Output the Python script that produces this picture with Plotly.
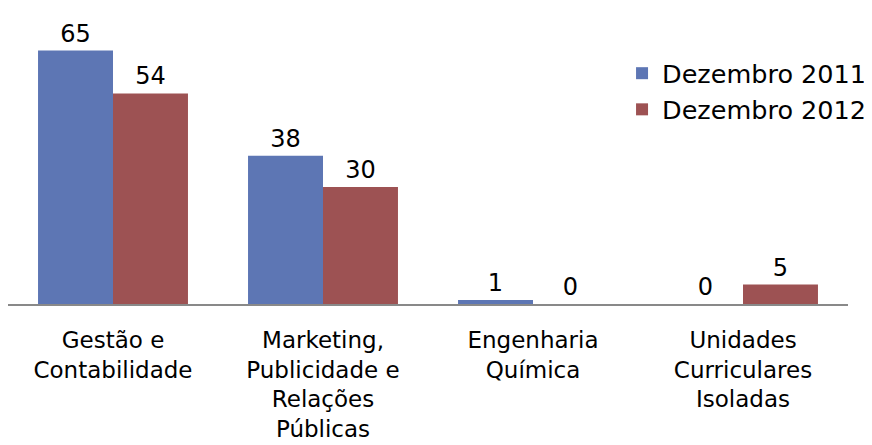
import plotly.graph_objects as go

categories = ["Gestão e<br>Contabilidade", "Marketing,<br>Publicidade e<br>Relações<br>Públicas",
              "Engenharia<br>Química", "Unidades<br>Curriculares<br>Isoladas"]
series_names = ["Dezembro 2011", "Dezembro 2012"]
values_2011 = [65, 38, 1, 0]
values_2012 = [54, 30, 0, 5]
colors = ["#5D76B4", "#9D5253"]

FONT = "DejaVu Sans, Verdana, sans-serif"

fig = go.Figure()
for name, vals, col in zip(series_names, [values_2011, values_2012], colors):
    fig.add_trace(go.Bar(
        x=categories, y=vals, name=name,
        marker=dict(color=col, line=dict(width=0)),
        text=[str(v) for v in vals], textposition="outside",
        textfont=dict(family=FONT, size=24, color="#000000"),
        cliponaxis=False,
    ))

# the page body adds an 8px offset, so the figure is sized/margined to compensate
fig.update_layout(
    width=864, height=437,
    margin=dict(l=0, r=24, t=23, b=141, pad=0, autoexpand=False),
    paper_bgcolor="white", plot_bgcolor="white",
    barmode="group", bargap=0.286, bargroupgap=0,
    font=dict(family=FONT, size=23, color="#000000"),
    legend=dict(x=0.731, y=0.93, xanchor="left", yanchor="top",
                font=dict(family=FONT, size=25.5), bgcolor="rgba(0,0,0,0)",
                itemwidth=30, tracegroupgap=0),
    xaxis=dict(showline=True, linecolor="#898989", linewidth=2,
               showgrid=False, ticks="", ticklabelstandoff=14,
               tickfont=dict(family=FONT, size=23)),
    yaxis=dict(range=[0, 70], visible=False, showgrid=False, zeroline=False),
    showlegend=True,
)

fig.write_html("out.html")
